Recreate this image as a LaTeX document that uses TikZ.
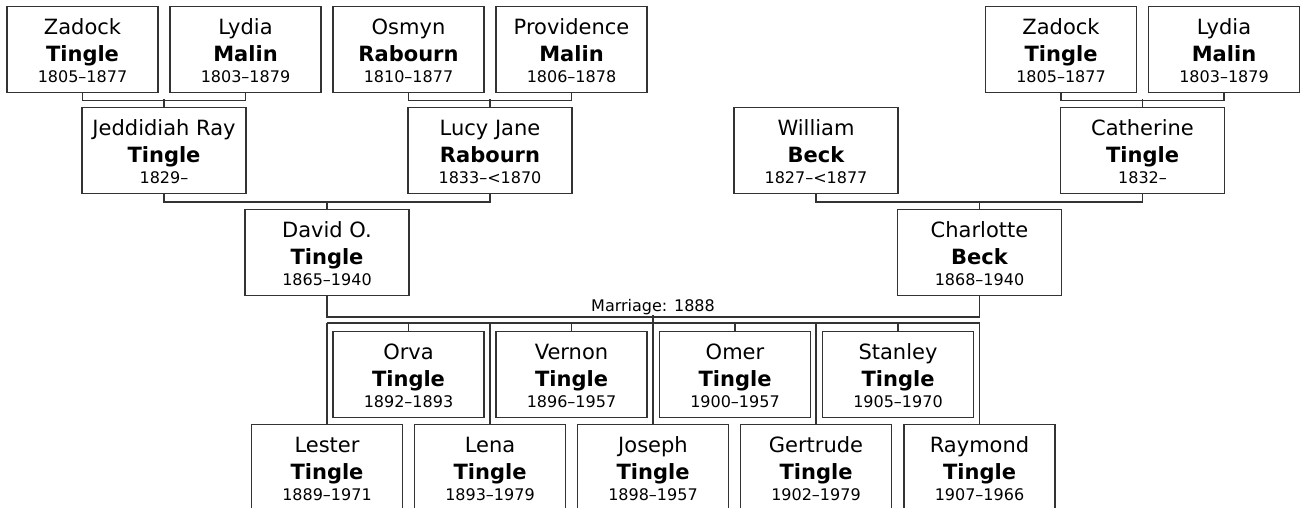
\documentclass[tikz,border=0pt]{standalone}
\usepackage{fontspec}
\setmainfont{DejaVu Sans}
\newcommand\namefnt{\fontsize{21}{21}\selectfont}
\newcommand\surfnt{\fontsize{21}{21}\selectfont\bfseries}
\newcommand\datefnt{\fontsize{16}{16}\selectfont}
% three lines of a person box: given name, surname, dates
\newcommand\pers[3]{\vbox to 86pt{\offinterlineskip
  \hbox to 0pt{\hss\vrule height 28pt width 0pt\smash{\namefnt #1}\hss}
  \hbox to 0pt{\hss\vrule height 27pt width 0pt\smash{\surfnt #2}\hss}
  \hbox to 0pt{\hss\vrule height 21pt width 0pt\smash{\datefnt #3}\hss}
  \vss}}
\begin{document}
\begin{tikzpicture}[x=1pt, y=-1pt, >=latex,
  person/.style={draw=black!80, line width=1.4pt, fill=white, inner sep=0pt, minimum height=86pt, anchor=north},
  gen/.style={person, minimum width=151pt},
  mid/.style={person, minimum width=164pt},
  link/.style={draw=black!80, line width=1.4pt}]
\useasboundingbox (0,0) rectangle (1300,508);
% Grandparents
\node[gen] (zt1) at (82.5,6) {\pers{Zadock}{Tingle}{1805--1877}};
\node[gen] (lm1) at (245.5,6) {\pers{Lydia}{Malin}{1803--1879}};
\node[gen] (or) at (408.5,6) {\pers{Osmyn}{Rabourn}{1810--1877}};
\node[gen] (pm) at (571.5,6) {\pers{Providence}{Malin}{1806--1878}};
\node[gen] (zt2) at (1061,6) {\pers{Zadock}{Tingle}{1805--1877}};
\node[gen] (lm2) at (1224,6) {\pers{Lydia}{Malin}{1803--1879}};
% Parents
\node[mid] (jrt) at (164,107) {\pers{Jeddidiah Ray}{Tingle}{1829--}};
\node[mid] (ljr) at (490,107) {\pers{Lucy Jane}{Rabourn}{1833--<1870}};
\node[mid] (wb) at (816,107) {\pers{William}{Beck}{1827--<1877}};
\node[mid] (ct) at (1142.5,107) {\pers{Catherine}{Tingle}{1832--}};
% Couple
\node[mid] (dot) at (327,208.5) {\pers{David O.}{Tingle}{1865--1940}};
\node[mid] (cb) at (979.5,208.5) {\pers{Charlotte}{Beck}{1868--1940}};
% Children
\node[gen] (ort) at (408.5,331) {\pers{Orva}{Tingle}{1892--1893}};
\node[gen] (vet) at (571.5,331) {\pers{Vernon}{Tingle}{1896--1957}};
\node[gen] (omt) at (735,331) {\pers{Omer}{Tingle}{1900--1957}};
\node[gen] (stt) at (898,331) {\pers{Stanley}{Tingle}{1905--1970}};
\node[gen] (let) at (327,424) {\pers{Lester}{Tingle}{1889--1971}};
\node[gen] (lnt) at (490,424) {\pers{Lena}{Tingle}{1893--1979}};
\node[gen] (jot) at (653,424) {\pers{Joseph}{Tingle}{1898--1957}};
\node[gen] (get) at (816,424) {\pers{Gertrude}{Tingle}{1902--1979}};
\node[gen] (rat) at (979.5,424) {\pers{Raymond}{Tingle}{1907--1966}};
% Brackets
\draw[link] (zt1.south) -- ++(0,7) -| (lm1.south);
\draw[link] (jrt.north) -- ++(0,-8);
\draw[link] (or.south) -- ++(0,7) -| (pm.south);
\draw[link] (ljr.north) -- ++(0,-8);
\draw[link] (zt2.south) -- ++(0,7) -| (lm2.south);
\draw[link] (ct.north) -- ++(0,-8);
\draw[link] (jrt.south) -- ++(0,7.5) -| (ljr.south);
\draw[link] (dot.north) -- ++(0,-8);
\draw[link] (wb.south) -- ++(0,7.5) -| (ct.south);
\draw[link] (cb.north) -- ++(0,-8);
% Marriage
\draw[link] (dot.south) -- ++(0,21) -| (cb.south);
\node[anchor=base, font=\fontsize{16}{16}\selectfont] (marr) at (653,311) {Marriage: 1888};
\coordinate (fam) at (653,315);
\coordinate (famL) at (327,323);
\coordinate (famR) at (979.5,323);
\draw[link] (fam) -- (fam |- famL);
\draw[link] (famL) -- (famR);
\foreach \k in {ort,vet,omt,stt,let,lnt,jot,get,rat}
  \draw[link] (\k.north) -- (\k.north |- famL);
\end{tikzpicture}
\end{document}
